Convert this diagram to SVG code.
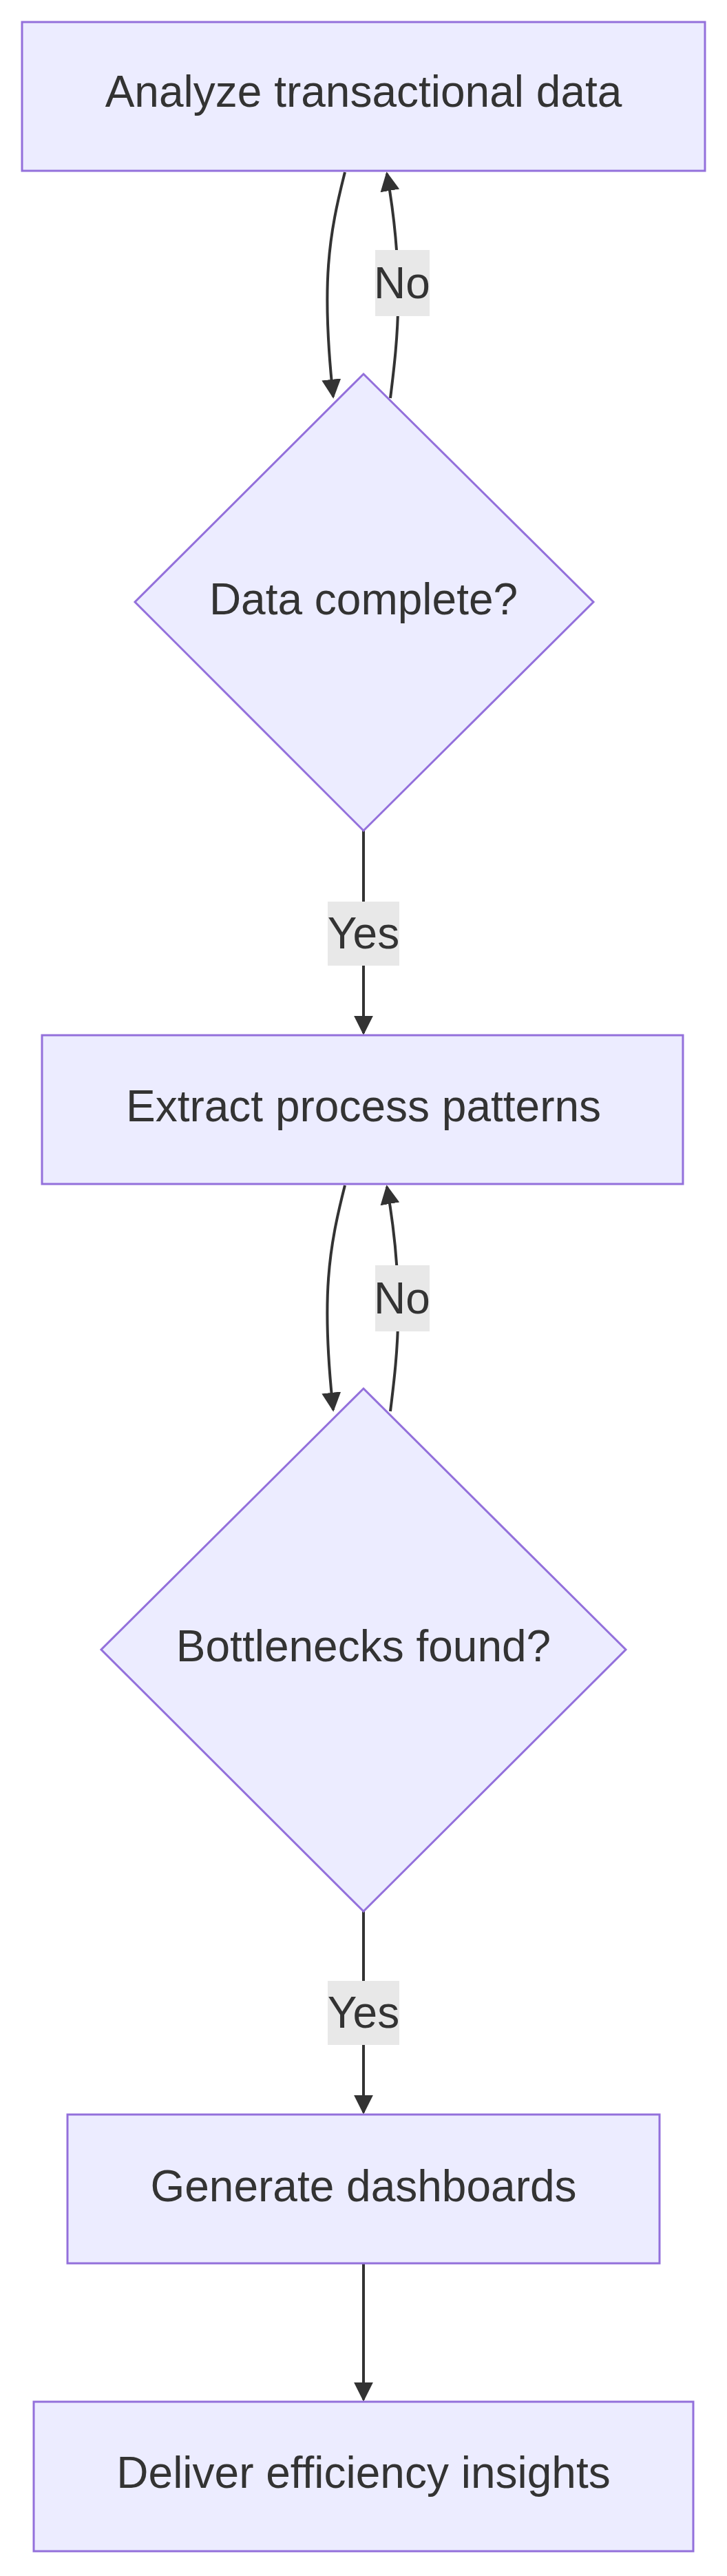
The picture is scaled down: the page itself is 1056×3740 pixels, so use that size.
<svg xmlns="http://www.w3.org/2000/svg" width="1056" height="3740" viewBox="0 0 1056 3740">
<style>
.n{fill:#ECECFF;stroke:#9370DB;stroke-width:3}
.t{font-family:"Liberation Sans",Arial,sans-serif;font-size:64px;fill:#333;text-anchor:middle;dominant-baseline:central}
.e{fill:none;stroke:#333;stroke-width:4}
.lb{fill:#e8e8e8}
</style>
<defs>
<marker id="a" viewBox="0 0 10 10" refX="9" refY="5" markerUnits="userSpaceOnUse" markerWidth="28" markerHeight="28" orient="auto"><path d="M0,0L10,5L0,10z" fill="#333"/></marker>
</defs>
<g id="edges">
<path class="e" d="M501,250 C478,340 466,410 484,576" marker-end="url(#a)"/>
<path class="e" d="M567,578 C578,490 588,400 562,252" marker-end="url(#a)"/>
<path class="e" d="M528,1206 L528,1500" marker-end="url(#a)"/>
<path class="e" d="M501,1721 C478,1811 466,1881 484,2047" marker-end="url(#a)"/>
<path class="e" d="M567,2049 C578,1961 588,1871 562,1723" marker-end="url(#a)"/>
<path class="e" d="M528,2775 L528,3067" marker-end="url(#a)"/>
<path class="e" d="M528,3286 L528,3484" marker-end="url(#a)"/>
</g>
<g id="labels">
<rect class="lb" x="545" y="363" width="79" height="96"/><text class="t" x="584" y="411">No</text>
<rect class="lb" x="476" y="1309" width="104" height="93"/><text class="t" x="528" y="1355">Yes</text>
<rect class="lb" x="545" y="1837" width="79" height="96"/><text class="t" x="584" y="1885">No</text>
<rect class="lb" x="476" y="2876" width="104" height="93"/><text class="t" x="528" y="2922">Yes</text>
</g>
<g id="A"><rect class="n" x="32" y="32" width="992" height="216"/><text class="t" x="528" y="133">Analyze transactional data</text></g>
<g id="B"><path class="n" d="M528,543 L862,874 L528,1206 L196,874 Z"/><text class="t" x="528" y="870">Data complete?</text></g>
<g id="C"><rect class="n" x="61" y="1503" width="931" height="216"/><text class="t" x="528" y="1606">Extract process patterns</text></g>
<g id="D"><path class="n" d="M528,2016 L909,2395 L528,2775 L147,2395 Z"/><text class="t" x="528" y="2390">Bottlenecks found?</text></g>
<g id="E"><rect class="n" x="98" y="3070" width="860" height="216"/><text class="t" x="528" y="3174">Generate dashboards</text></g>
<g id="F"><rect class="n" x="49" y="3487" width="958" height="217"/><text class="t" x="528" y="3590">Deliver efficiency insights</text></g>
</svg>
